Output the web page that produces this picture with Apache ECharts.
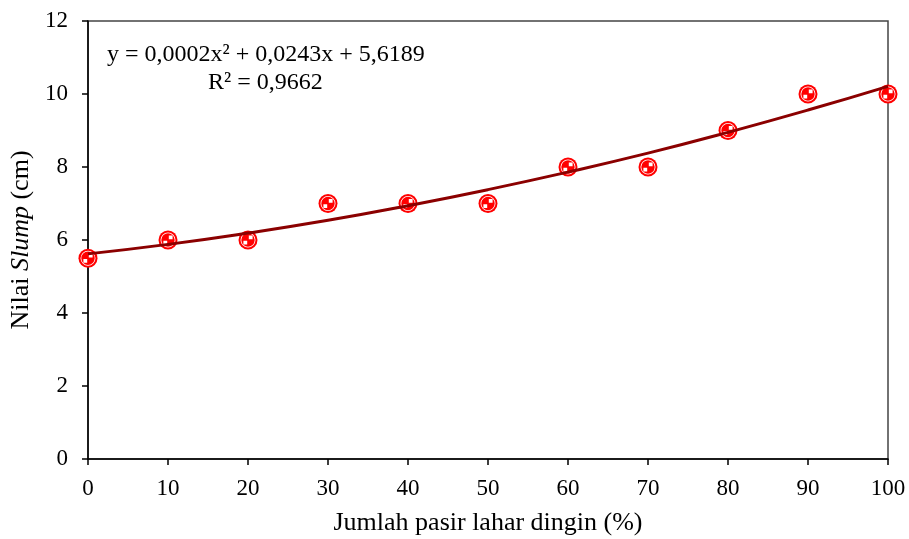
<!DOCTYPE html>
<html>
<head>
<meta charset="utf-8">
<script src="https://cdn.jsdelivr.net/npm/echarts@6/dist/echarts.min.js"></script>
<style>
  html, body { margin: 0; padding: 0; background: #fff; }
  #chart { width: 909px; height: 539px; }
</style>
</head>
<body>
<div id="chart"></div>
<script>
// data
var pasirLahar = [0, 10, 20, 30, 40, 50, 60, 70, 80, 90, 100];   // %
var nilaiSlump = [5.5, 6, 6, 7, 7, 7, 8, 8, 9, 10, 10];           // cm
// garis trend polinomial (orde 2), nilai dibaca dari kurva
var trendSlump = [5.62, 5.88, 6.19, 6.54, 6.94, 7.38, 7.86, 8.38, 8.95, 9.56, 10.21];
var xTicks = [0, 10, 20, 30, 40, 50, 60, 70, 80, 90, 100];
var yTicks = [0, 2, 4, 6, 8, 10, 12];

var serif = '"Liberation Serif", "Times New Roman", serif';

function pairs(xs, ys) {
  return xs.map(function (x, i) { return [x, ys[i]]; });
}

// pola putih di dalam marker (cincin tipis + dua kotak)
var patternPath = 'path://M0,-7.5 A7.5,7.5 0 1,1 0,7.5 A7.5,7.5 0 1,1 0,-7.5 Z ' +
  'M0,-6.7 A6.7,6.7 0 1,0 0,6.7 A6.7,6.7 0 1,0 0,-6.7 Z ' +
  'M0.8,-4.6 L4.6,-4.6 L4.6,-0.8 L0.8,-0.8 Z ' +
  'M-4.6,0.8 L-0.8,0.8 L-0.8,4.6 L-4.6,4.6 Z';

var myChart = echarts.init(document.getElementById('chart'));
myChart.setOption({
  animation: false,
  grid: {
    left: 88, right: 21, top: 21, bottom: 80,
    outerBoundsMode: 'none',
    show: true, borderColor: '#444', borderWidth: 1.5
  },
  xAxis: {
    type: 'value',
    min: 0, max: 100, interval: 10,
    name: 'Jumlah pasir lahar dingin (%)',
    nameLocation: 'middle',
    nameGap: 51,
    nameTextStyle: { fontFamily: serif, fontSize: 26, color: '#000' },
    axisLine: { lineStyle: { color: '#000', width: 1.5 } },
    axisTick: { show: true, length: 6, lineStyle: { color: '#000', width: 1.5 } },
    axisLabel: {
      color: '#000', fontFamily: serif, fontSize: 23, margin: 18,
      formatter: function (v) { return xTicks.indexOf(v) >= 0 ? String(v) : ''; }
    },
    splitLine: { show: false }
  },
  yAxis: {
    type: 'value',
    min: 0, max: 12, interval: 2,
    name: '{n|Nilai }{i|Slump}{n| (cm)}',
    nameLocation: 'middle',
    nameGap: 51,
    nameTextStyle: {
      rich: {
        n: { fontFamily: serif, fontSize: 26, color: '#000' },
        i: { fontFamily: serif, fontSize: 26, color: '#000', fontStyle: 'italic' }
      }
    },
    axisLine: { show: true, lineStyle: { color: '#000', width: 1.5 } },
    axisTick: { show: true, length: 6, lineStyle: { color: '#000', width: 1.5 } },
    axisLabel: {
      color: '#000', fontFamily: serif, fontSize: 23, margin: 20,
      formatter: function (v) { return yTicks.indexOf(v) >= 0 ? String(v) : ''; }
    },
    splitLine: { show: false }
  },
  graphic: [
    {
      type: 'text', left: 107, top: 43, z: 100,
      style: { text: 'y = 0,0002x² + 0,0243x + 5,6189', fontFamily: serif, fontSize: 24, fill: '#000' }
    },
    {
      type: 'text', left: 208, top: 71, z: 100,
      style: { text: 'R² = 0,9662', fontFamily: serif, fontSize: 24, fill: '#000' }
    }
  ],
  series: [
    {
      name: 'Nilai Slump',
      type: 'scatter',
      symbol: 'circle',
      symbolSize: 19,
      itemStyle: { color: '#ff0000', opacity: 1 },
      z: 2,
      data: pairs(pasirLahar, nilaiSlump)
    },
    {
      name: 'pola',
      type: 'scatter',
      symbol: patternPath,
      symbolSize: 15,
      silent: true,
      itemStyle: { color: '#ffffff', opacity: 1 },
      z: 3,
      data: pairs(pasirLahar, nilaiSlump)
    },
    {
      name: 'Trend',
      type: 'line',
      smooth: true,
      showSymbol: false,
      symbol: 'none',
      lineStyle: { color: '#8b0000', width: 3 },
      z: 4,
      data: pairs(pasirLahar, trendSlump)
    }
  ]
});
</script>
</body>
</html>
